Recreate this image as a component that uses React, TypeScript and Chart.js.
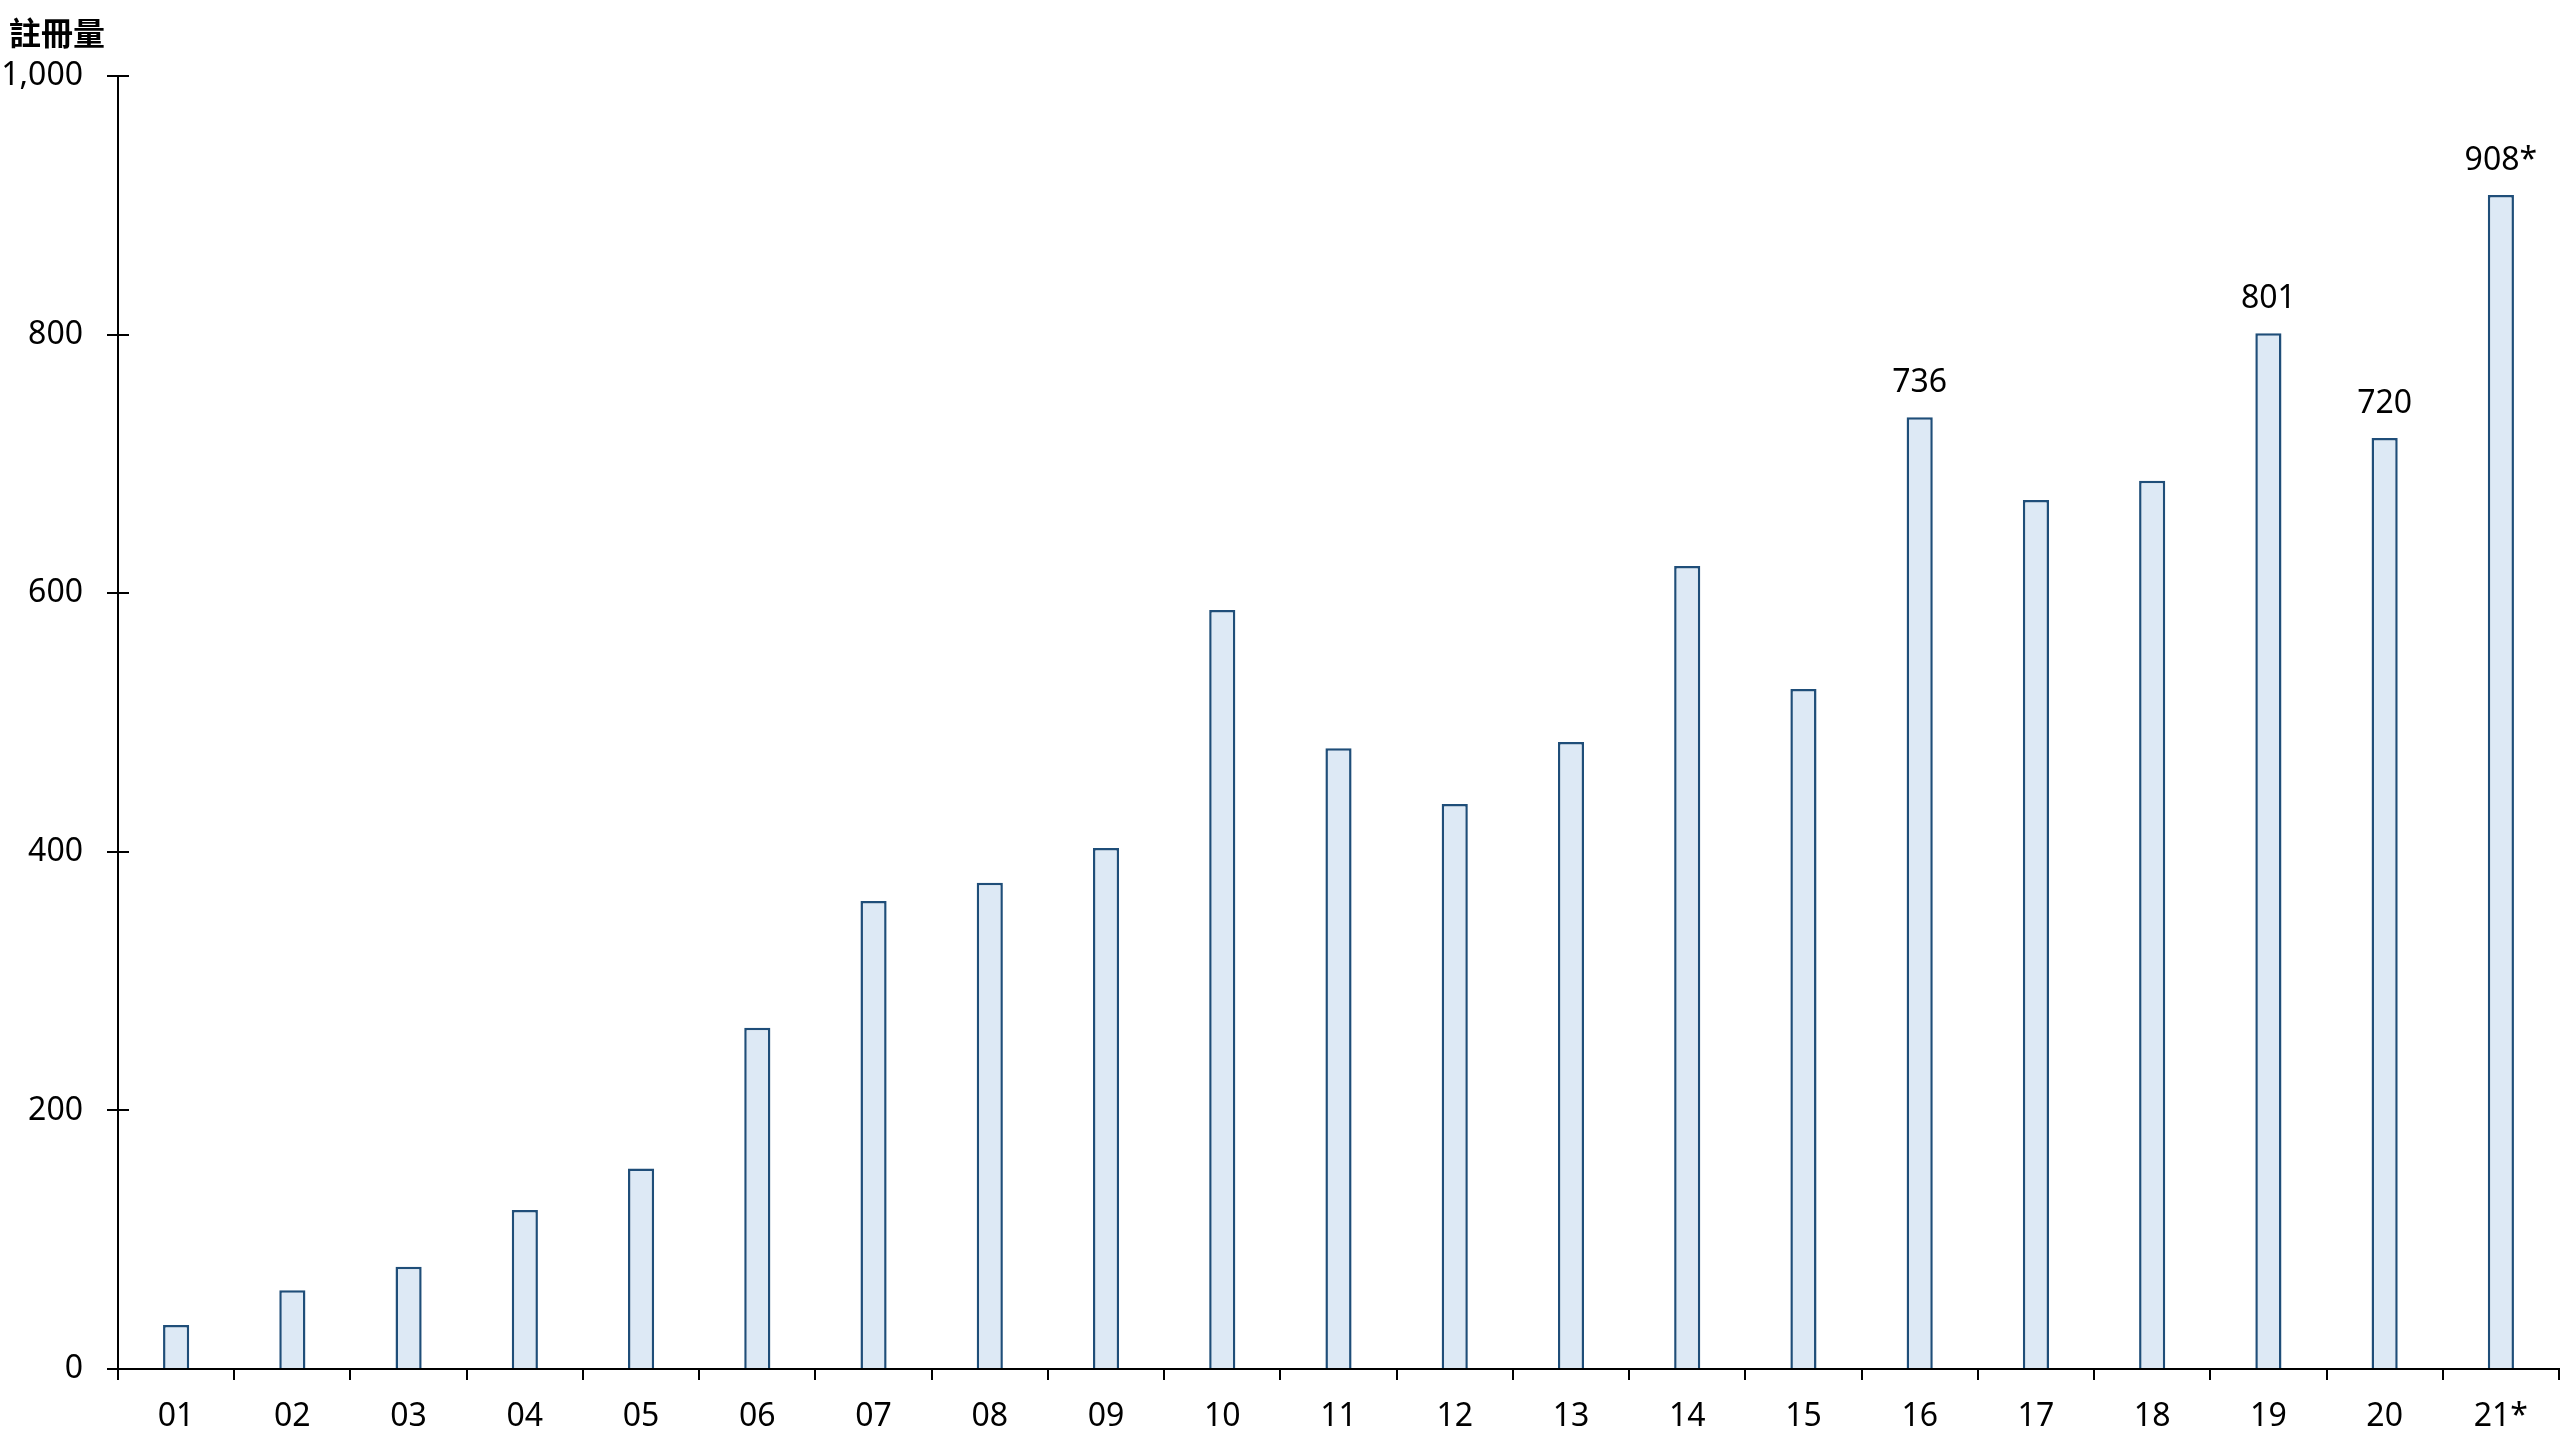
import React, { useEffect, useRef } from "react";
import { Chart, registerables } from "chart.js";

Chart.register(...registerables);

const categories = ["01", "02", "03", "04", "05", "06", "07", "08", "09", "10", "11", "12", "13", "14", "15", "16", "17", "18", "19", "20", "21*"];
const registrations = [34, 61, 79, 123, 155, 264, 362, 376, 403, 587, 480, 437, 485, 621, 526, 736, 672, 687, 801, 720, 908];
const valueLabels = ["", "", "", "", "", "", "", "", "", "", "", "", "", "", "", "736", "", "", "801", "720", "908*"];
const yMin = 0;
const yMax = 1000;
const yStep = 200;
const yAxisTitle = "註冊量";

const FONT = '"Noto Sans", "DejaVu Sans", sans-serif';

const decorations = {
  id: "decorations",
  afterDraw(chart: any) {
    const ctx = chart.ctx;
    const y = chart.scales.y;
    const area = chart.chartArea;
    ctx.save();
    // inner half of y ticks
    ctx.strokeStyle = "#000";
    ctx.lineWidth = 2;
    y.ticks.forEach((_t: any, i: number) => {
      const py = Math.round(y.getPixelForTick(i));
      ctx.beginPath();
      ctx.moveTo(area.left, py);
      ctx.lineTo(area.left + 11, py);
      ctx.stroke();
    });
    // value labels
    const meta = chart.getDatasetMeta(0);
    ctx.fillStyle = "#000";
    ctx.font = `32px ${FONT}`;
    ctx.textAlign = "center";
    ctx.textBaseline = "alphabetic";
    meta.data.forEach((el: any, i: number) => {
      const txt = valueLabels[i];
      if (txt) ctx.fillText(txt, el.x, el.y - 25);
    });
    // axis title
    ctx.font = `bold 32px "Noto Sans CJK TC", ${FONT}`;
    ctx.textAlign = "left";
    ctx.textBaseline = "middle";
    ctx.fillText(yAxisTitle, 9, area.top - 43);
    ctx.restore();
  },
};

export default function App() {
  const canvasRef = useRef<HTMLCanvasElement | null>(null);

  useEffect(() => {
    document.body.style.margin = "0";
    const canvas = canvasRef.current;
    if (!canvas) return;
    const chart = new Chart(canvas, {
      type: "bar",
      data: {
        labels: categories,
        datasets: [
          {
            data: registrations,
            backgroundColor: "#dde9f5",
            borderColor: "#1f4e79",
            borderWidth: 2.5,
            categoryPercentage: 1,
            barPercentage: 0.225,
          },
        ],
      },
      options: {
        responsive: false,
        animation: false,
        devicePixelRatio: 1,
        layout: { padding: { top: 76, right: 1, left: 0, bottom: 0 } },
        plugins: {
          legend: { display: false },
          tooltip: { enabled: false },
          title: { display: false },
        },
        scales: {
          x: {
            type: "category",
            offset: true,
            grid: {
              offset: true,
              display: true,
              drawOnChartArea: false,
              drawTicks: true,
              tickLength: 11,
              color: "#000",
              lineWidth: 2,
            },
            border: { display: true, color: "#000", width: 2 },
            ticks: {
              color: "#000",
              font: { family: FONT, size: 32 },
              padding: 18,
              maxRotation: 0,
              autoSkip: false,
            },
            afterFit(s: any) {
              s.height = 71;
            },
          },
          y: {
            min: yMin,
            max: yMax,
            ticks: {
              stepSize: yStep,
              color: "#000",
              font: { family: FONT, size: 32 },
              padding: 24,
              callback: (v: any) => Number(v).toLocaleString("en-US"),
            },
            grid: {
              display: true,
              drawOnChartArea: false,
              drawTicks: true,
              tickLength: 11,
              color: "#000",
              lineWidth: 2,
            },
            border: { display: true, color: "#000", width: 2 },
            afterFit(s: any) {
              s.width = 118;
            },
          },
        },
      },
      plugins: [decorations],
    } as any);
    return () => chart.destroy();
  }, []);

  return (
    <div style={{ width: 2560, height: 1440, background: "#fff" }}>
      <canvas ref={canvasRef} width={2560} height={1440} style={{ display: "block" }} />
    </div>
  );
}
